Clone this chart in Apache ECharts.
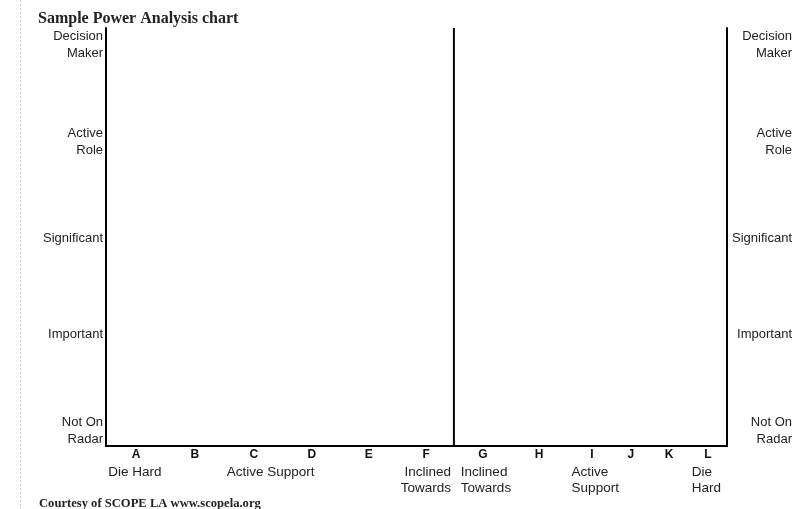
<!DOCTYPE html>
<html><head><meta charset="utf-8">
<script src="https://cdn.jsdelivr.net/npm/echarts@6/dist/echarts.min.js"></script>
<style>html,body{margin:0;padding:0;background:#fff}#c{width:805px;height:509px}</style>
</head><body><div id="c"></div>
<script>
// Power levels (y axis)
const levelLabels = ['Not On\nRadar', 'Important', 'Significant', 'Active\nRole', 'Decision\nMaker'];
const levelValues = [0, 1, 2, 3, 4];
// Stakeholder columns (x axis)
const letters = ['A','B','C','D','E','F','G','H','I','J','K','L'];
const letterPos = [0.52, 1.53, 2.55, 3.55, 4.53, 5.52, 6.5, 7.47, 8.38, 9.05, 9.71, 10.38];
// Stance notes under the letters
const centerNotes = ['Die Hard', 'Active Support'];
const centerNotePos = [0.5, 2.84];
const rightNotes = ['Inclined\nTowards'];
const rightNotePos = [5.95];
const leftNotes = ['Inclined\nTowards', 'Active\nSupport', 'Die\nHard'];
const leftNotePos = [6.12, 8.03, 10.1];
// Divider between opposing and supporting sides
const dividerX = 6;
const xMin = 0, xMax = 10.71, yMin = -0.157, yMax = 4.18;

function lookup(pos, labels) {
  return function (v) {
    const i = pos.findIndex(p => Math.abs(p - v) < 1e-6);
    return i >= 0 ? labels[i] : '';
  };
}
const sans = 'Liberation Sans';
const noLine = { show: false };
function noteAxis(pos, labels, align) {
  return {
    type: 'value', position: 'bottom', min: xMin, max: xMax,
    axisLine: noLine, axisTick: noLine, splitLine: noLine,
    axisLabel: {
      customValues: pos, formatter: lookup(pos, labels), align: align,
      fontFamily: sans, fontSize: 13.5, lineHeight: 16, color: '#222', margin: 18,
      hideOverlap: false
    }
  };
}
function levelAxis(position, align, margin) {
  return {
    type: 'value', position: position, min: yMin, max: yMax,
    axisLine: { show: true, onZero: false, lineStyle: { color: '#000', width: 2 } },
    axisTick: noLine, splitLine: noLine,
    axisLabel: {
      customValues: levelValues, formatter: lookup(levelValues, levelLabels),
      align: align, margin: margin, fontFamily: sans, fontSize: 13, lineHeight: 17, color: '#222'
    }
  };
}

const chart = echarts.init(document.getElementById('c'), null, { renderer: 'canvas' });
chart.setOption({
  backgroundColor: '#fff',
  animation: false,
  title: [
    { text: 'Sample Power Analysis chart', left: 38, top: 11, padding: 0,
      textStyle: { fontFamily: 'Liberation Serif', fontWeight: 'bold', fontSize: 16, color: '#222' } },
    { text: 'Courtesy of SCOPE LA www.scopela.org', left: 39, top: 497.5, padding: 0,
      textStyle: { fontFamily: 'Liberation Serif', fontWeight: 'bold', fontSize: 12.6, color: '#222' } }
  ],
  graphic: [{
    type: 'line', shape: { x1: 20.5, y1: 0, x2: 20.5, y2: 509 },
    style: { stroke: '#c8c8c8', lineWidth: 1, lineDash: [2, 2] }, silent: true
  }],
  grid: { left: 106, right: 78, top: 28, bottom: 63, containLabel: false },
  xAxis: [
    {
      type: 'value', position: 'bottom', min: xMin, max: xMax,
      axisLine: { show: true, onZero: false, lineStyle: { color: '#000', width: 2 } },
      axisTick: noLine, splitLine: noLine,
      axisLabel: {
        customValues: letterPos, formatter: lookup(letterPos, letters),
        fontFamily: sans, fontWeight: 'bold', fontSize: 12, lineHeight: 12, color: '#111', margin: 3,
        hideOverlap: false
      }
    },
    noteAxis(centerNotePos, centerNotes, 'center'),
    noteAxis(rightNotePos, rightNotes, 'right'),
    noteAxis(leftNotePos, leftNotes, 'left')
  ],
  yAxis: [
    levelAxis('left', 'right', 3),
    levelAxis('right', 'right', 65)
  ],
  series: [{
    type: 'line', xAxisIndex: 0, yAxisIndex: 0, silent: true,
    symbol: 'none', lineStyle: { color: '#000', width: 2 },
    data: [[dividerX, yMin], [dividerX, yMax]]
  }]
});
</script></body></html>
